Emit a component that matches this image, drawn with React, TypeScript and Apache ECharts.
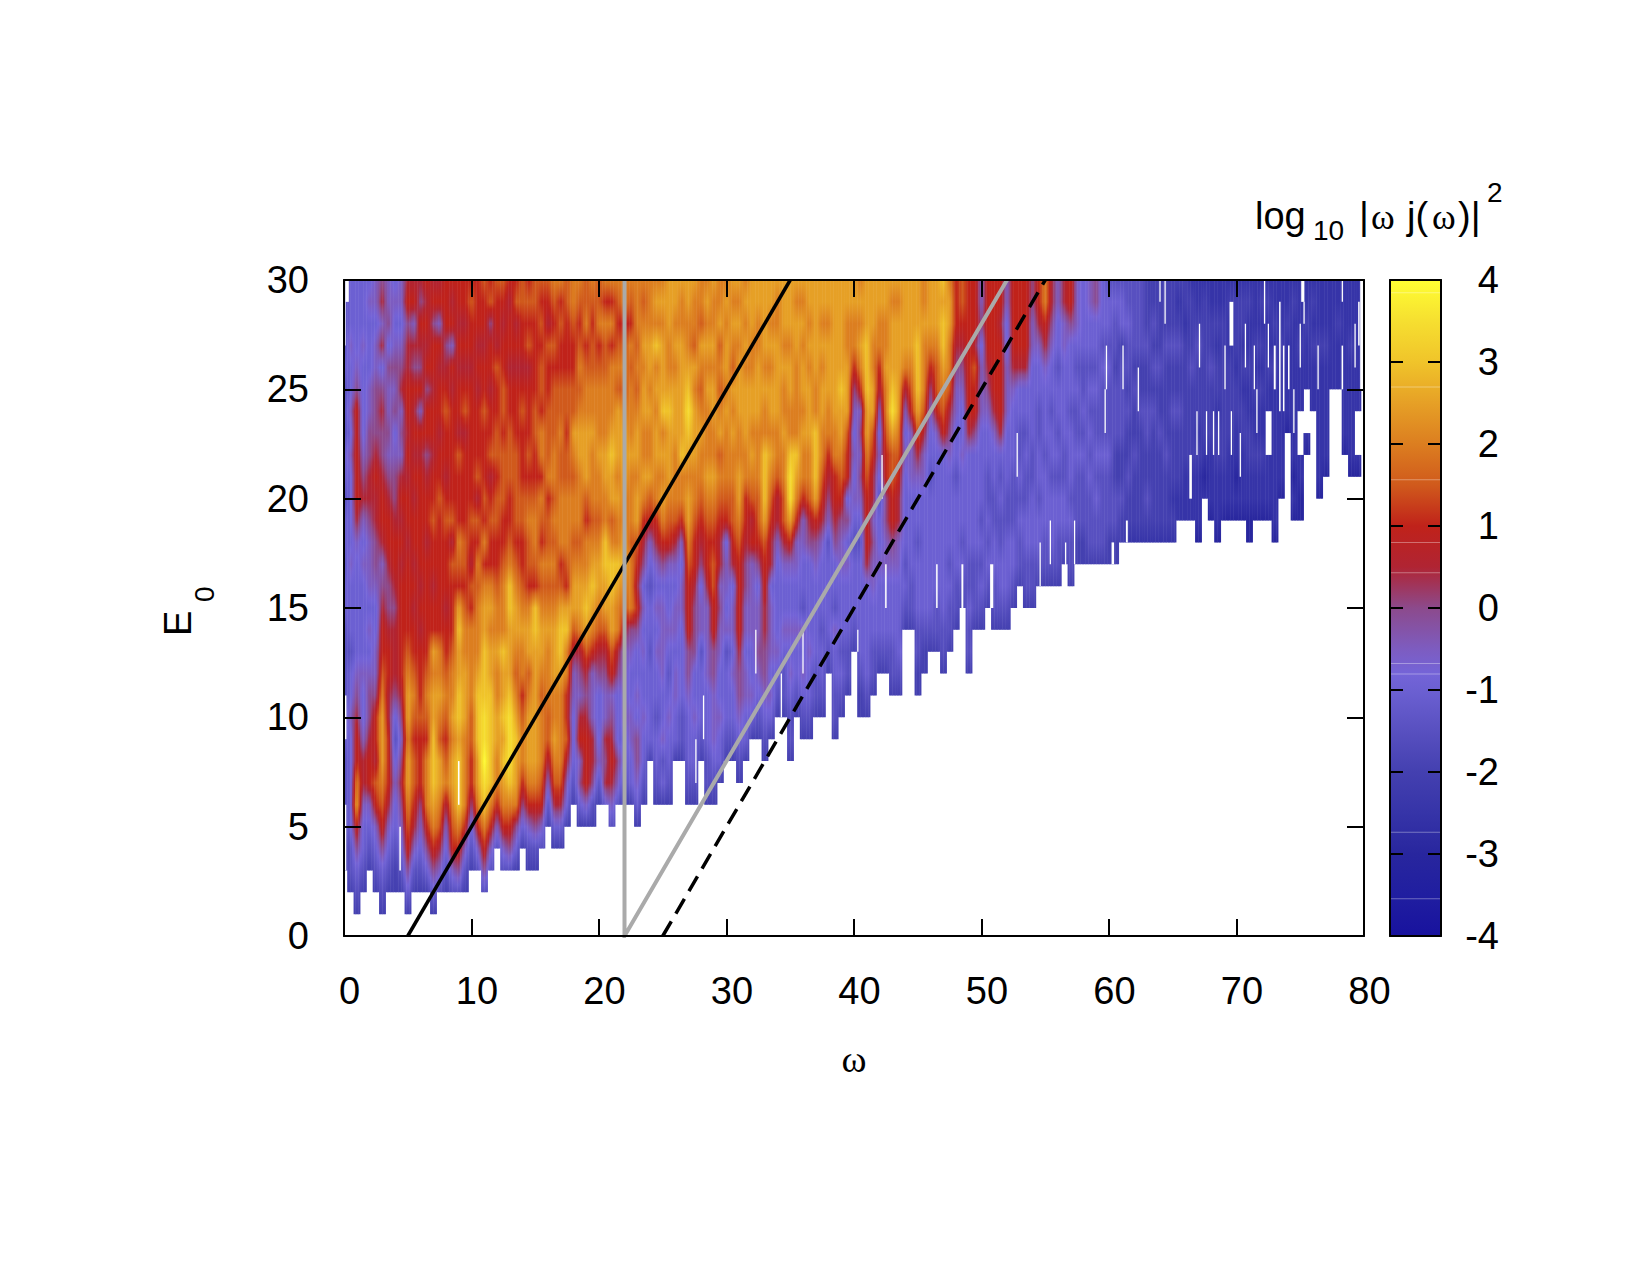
import { useEffect, useRef } from "react";
import * as echarts from "echarts";

// log10 |w j(w)|^2, one string per omega (step 0.5), E0 = 0..30 left to right.
// a = -4, b = -3.5 ... i = 0 ... q = 4, "." = no data
const columnsOmega0to20 = [
  "...ee ffffg gffff ggfgg fggff fgfff f",
  "..eff ggggg hggfg gghgg gghgh gghgg g",
  ".efgi knmkk jihgg ggghj kkkkk ihggg g",
  "..efg ghjjh gghgg gghgh jihgg gghgg g",
  "...ef ghkkj iihgh ghhhi jjiih hgggh g",
  "..efg hkljk kihhg ghiij jkjii ihhgh h",
  ".efgi klmnn nmlkk jihjk kjiij igjhj i",
  "..efg hjkkk jjkkj iijkk jihih higih h",
  "..eef gghgf gijjj ijkkj iihgi hihgh g",
  "..efg hijih ijkkk kkjkj kjhih jihgh h",
  ".egik lmnnm nnmlk kkkjk kjkjk kjjik j",
  "..efh jkllk lmlkk jkjkk jkjkj kijhk j",
  "..efg hikkk lkkkj kjkkk kkjkh kijki j",
  "..egi kmmmk lmlkk kkkjk kjikk ikjkj k",
  ".egik mnooo nnmnk kjkkl kkjkk jkkik j",
  "..fhj lmnnl mnmmk kkkkk lkkjk kjkhk j",
  "..efg hjmlk lmlkk jkkkl kjkkl kjikk k",
  "..fhk lmnnm nmmlk kkljl kkkkk jkhkj k",
  "..fik mooon oonno nklmk kkljk kjkjk k",
  "..efh kmmmm nnnmm lkllk kkkjl kjkjk k",
  "...ef gikkl lmmmm kljkl kkkkk kjkkl k",
  "...fh kmnno oonmm mlmkl jlkkk jkjkk k",
  "..fik mopqp pooon nmkmk lkkkl kkjkk l",
  "...fh kmooo oonnm nmkkl kjlkk jkkil k",
  "....f hkmmn nmmnm mlkkl lkllk kljkk l",
  "...fh kmnon onnom mmlkk lllkl lkkjk l",
  "...fi kmopp ponnn oomlk klllk kjkkj k",
  "...eg imnno nmlmn nmlkl lllkk kjkjl k",
  "....e gikmm lkmmn mlkkl lkkkl kjkkl l",
  "...ef hkmnn nmlnn mkllm lklkk kjlkl k",
  "...ef ikmnn nnnno oklmm lkkll kkkkl l",
  "....f hklmm mlmnn mlmkl mkmmk llklk l",
  "..... efhjl lmmmn mlmll kmlll kkljk l",
  "....e gjlmn mmnnn mlmlm lmmll lklkl m",
  "....e gjlmm mmnoo nlkmm mllml lkklk m",
  "..... eghjl kkmmo nklmm mllkl lkkkl l",
  "..... .efgg ghhjl nnmlm mlmnl lkklm m",
  "..... egihk jhijm nnmlm mmnnm lmlkl m",
  "..... ehkkk jijln onmmk lnnnm mlkml l",
  "..... efijj hhhkm nonml mmmnm mllkl m",
];
const columnsOmega20to40 = [
  "..... .efhg ggijl mnnml mmnmm mlkml l",
  "..... .gjij hhijl nnoom mnnmm mllmk m",
  "..... fhjkj ihkln nooml nnonm mmkmk m",
  "..... .fhig ggijm mnomm nmnnn lmlkl m",
  "..... .efgg hhhhj lmnnm mnnnm lmlkm m",
  "..... .eggh hgghi mmmlm mmnmm mlmkl m",
  "..... eghii ghggi kjkln nmnnm lmlmm m",
  "..... .efgg hgghg hgijk mnmmn nmnml m",
  "..... ...eg gggfg gfghk lnmmn mnnmm m",
  "..... .efgg fgghg hghjk mmnnm nmomn m",
  "..... .egfh gghhh hgikm nmnmo nnnmn m",
  "..... .efgg hgfgh gghkl mnnno nmmnn n",
  "..... ...eg ghhgh hghjl mmmnn nmnmn n",
  "..... ...ef fgggg hhghk mmonn nnnmm n",
  "..... .efgg ghiik kklmn nmnop onmmn n",
  "..... .efgg hggii ijkkl mmnnn mnlmm n",
  "..... ...ef gggfh hgijk lmmnm lmnlm m",
  "..... .effg gghhh hjkkl mnmmm nmnmn m",
  "..... .efgh hhiik kllkl mnmmn nmnmm n",
  "..... ..egg hgghh ihjjk lmlnm lmlnm m",
  "..... ...ef gggfh ghhgk lmmmn mnnmn m",
  "..... ...ef gghgh hgjkl lmmnm nlmnm n",
  "..... ..efg hiijk kkklm nnmmn nnmnm n",
  "..... ...eg ghhgh hiijk kmmnn nmnmn m",
  "..... ....e ghggh hhhkj lmnmn nmmnn n",
  "..... ....e fghih hgikl lmmmn nnmmn n",
  "..... ...ef ghiij jkkln ooomm nmnnn n",
  "..... ....e ghghh hgjjk lmnmn nmnmn n",
  "..... ..... efghg ggghj jlmmn nnnmm n",
  "..... ..... effgh gghjl lmmnm mnmnn n",
  "..... ...ef fghgh gghkn ppomm nnmnn n",
  "..... ..... efggh gghhk mnomm mmnnm n",
  "..... ....e fghgh fgghh kmmnm nnmnm n",
  "..... ....e fgghg gggij lmmnn nmnmn n",
  "..... ..... effgg gghik nooom mnnnn n",
  "..... ..... efggf ggghj klmmn nmnmn n",
  "..... ..... ..efg gggfh ijkmm nnnmn n",
  "..... ....e ffggh fggij kkmmn nnnnn n",
  "..... ..... efgfg gghhi klmnn onnnn n",
  "..... ..... .effg gghgi gkkln nnmmn n",
];
const columnsOmega40to60 = [
  "..... ..... ...ef gggfg hghgh ikmmn n",
  "..... ..... eefgg gggfg hihih kmnmn m",
  "..... ..... efggg ggjkk klmnn ooonn n",
  "..... ..... .effg ghhih jjkln nmmnn n",
  "..... ..... ..efg gghgg fghgh jkmmn n",
  "..... ..... ..efg gghhi ikklm mnmmn n",
  "..... ..... .effg gghik kllnp onnnm n",
  "..... ..... .efgg gghhj jklmn nnnnm n",
  "..... ..... ....e fgfgg gghgh jmnnn n",
  "..... ..... ....e ffggg ghhhk lmnnn n",
  "..... ..... .eeff gggfg ghjln ooonn n",
  "..... ..... ..eef ggggg ghhjl mmmnm m",
  "..... ..... ...ef ggggg gfggh ikmnn n",
  "..... ..... ...ef fgggg ggghk llmnn n",
  "..... ..... ..eff ggggg gggkl mnoon o",
  "..... ..... ...ef fgfgg gghij lmmnn m",
  "..... ..... ....e ffggg gfggh hijkk k",
  "..... ..... ..... efgfg gghgg hijkl l",
  "..... ..... ..eff gffgg gggjk kkkkk k",
  "..... ..... ....e fffgg gggik kljkk k",
  "..... ..... ....e fgfgf ggggh hhgih h",
  "..... ..... ..... efgfg ffggh ijkkk k",
  "..... ..... ....e ffggf fgghj kkkkk k",
  "..... ..... ....e fggff gfgjk kkkjk k",
  "..... ..... ....e fgggf fgggh hhggh h",
  "..... ..... ..... efggf ffggg hjkkk k",
  "..... ..... ..... .effg fgffg gjkkk k",
  "..... ..... ..... effgg ffgfg gjkkk k",
  "..... ..... ..... effgg gffgg gghhi i",
  "..... ..... ..... .efgg fggff gghjk k",
  "..... ..... ..... .effg ggfgg ghjkm m",
  "..... ..... ..... .efgg gfggf gghij j",
  "..... ..... ..... .effg gfgfg gfggh h",
  "..... ..... ..... ..efg gffgg gghhj j",
  "..... ..... ..... .effg fgggf gggik k",
  "..... ..... ..... ..eef ffgff gfghh h",
  "..... ..... ..... ..eef ffgfg ffggg g",
  "..... ..... ..... ..eff fgfgf gfggh h",
  "..... ..... ..... ..eff gfgff gfggi i",
  "..... ..... ..... ..eff ffgff fgfgg g",
];
const columnsOmega60to80 = [
  "..... ..... ..... ..eef ffgff fgfgg f",
  "..... ..... ..... ..eef feeff feffg f",
  "..... ..... ..... ...ee feeff ffegg f",
  "..... ..... ..... ...de efeef effgf f",
  "..... ..... ..... ...de eefee fefff f",
  "..... ..... ..... ...de eeeef eefff f",
  "..... ..... ..... ...de feeff eefee e",
  "..... ..... ..... ...de eeeef efefe e",
  "..... ..... ..... ...de eeefe efeee e",
  "..... ..... ..... ...de eefee eefee e",
  "..... ..... ..... ...de deeef eefee e",
  "..... ..... ..... ....d deeef eefed e",
  "..... ..... ..... ....d ddeee eeede e",
  "..... ..... ..... ....d ddeee efeee d",
  "..... ..... ..... ...cd ddede eefed d",
  "..... ..... ..... ..... dcdee eeeee d",
  "..... ..... ..... ....c dddee efeed d",
  "..... ..... ..... ...cd ddeed eeded d",
  "..... ..... ..... ....c ddeee eeeed d",
  "..... ..... ..... ....c dddee eedde d",
  "..... ..... ..... ....c dcdde edeee d",
  "..... ..... ..... ....c dddee dedee d",
  "..... ..... ..... ...cc ddeed dedde d",
  "..... ..... ..... ....c ddedd ededd d",
  "..... ..... ..... ....c ddedd edede d",
  "..... ..... ..... ....c ddd.d dedde d",
  "..... ..... ..... ...cd ddddd deded d",
  "..... ..... ..... ..... cdddd ddedd d",
  "..... ..... ..... ..... ...cd ddded d",
  "..... ..... ..... ....c dcddd dddde d",
  "..... ..... ..... ....c cdd.d ddedd d",
  "..... ..... ..... ..... ..cd. ddded d",
  "..... ..... ..... ..... ....d ddede d",
  "..... ..... ..... ..... cdddd ddedd d",
  "..... ..... ..... ..... .cddd ddedd d",
  "..... ..... ..... ..... ..... ddddd d",
  "..... ..... ..... ..... ..... ddded d",
  "..... ..... ..... ..... ..cdd ddddd d",
  "..... ..... ..... ..... .cddd ddedd d",
  "..... ..... ..... ..... .cd.d ddddd d",
  "..... ..... ..... ..... ..... ..... .",
];

// thin missing strips that are narrower than one column: omega, E0 from, E0 to, width in omega
const missingStrips = [
  [0.06, 27, 30, 0.14], [0.25, 29, 30, 0.25], [0.13, 9, 11, 0.12], [0.13, 3, 6, 0.1], [4.4, 3, 5, 0.12], [9, 6, 8, 0.12],
  [27.6, 7, 9, 0.1], [28.2, 9, 11, 0.1], [32.3, 12, 14, 0.1], [34.3, 10, 12, 0.1], [36, 12, 14, 0.1], [40.3, 13, 14, 0.1],
  [42.2, 20, 22, 0.1], [42.5, 15, 17, 0.12], [46.5, 15, 17, 0.12], [48.5, 15, 17, 0.15], [50.8, 15, 17, 0.25], [52.8, 21, 23, 0.1],
  [54.6, 16, 18, 0.1], [55.4, 17, 19, 0.1], [56.6, 16, 18, 0.1], [57.3, 17, 19, 0.1], [59.7, 23, 25, 0.1], [59.8, 25, 27, 0.1],
  [60.3, 17, 18, 0.2], [61.1, 25, 27, 0.1], [61.4, 18, 19, 0.15], [62.3, 24, 26, 0.1], [64, 29, 30, 0.1], [64.4, 28, 30, 0.1],
  [66.4, 20, 22, 0.2], [66.9, 22, 24, 0.1], [67.1, 26, 28, 0.1], [67.65, 22, 24, 0.1], [68.2, 22, 24, 0.1], [68.6, 22, 24, 0.1],
  [69.1, 25, 27, 0.1], [69.6, 27, 29, 0.3], [69.6, 22, 24, 0.1], [70.3, 21, 23, 0.1], [70.7, 26, 28, 0.1], [71.4, 25, 27, 0.1],
  [71.6, 23, 25, 0.1], [72.2, 28, 30, 0.1], [72.5, 26, 28, 0.1], [73, 25, 27, 0.15], [73.4, 24, 29, 0.12], [73.7, 24, 27, 0.12],
  [74.1, 25, 27, 0.12], [74.5, 23, 25, 0.1], [75.0, 26, 28, 0.1], [75.2, 29, 30, 0.25], [75.3, 28, 29, 0.1], [76.4, 25, 27, 0.1],
  [78.3, 25, 27, 0.12], [78.3, 29, 30, 0.1], [79.3, 26, 28, 0.1], [79.6, 27, 29, 0.12], [79.85, 25, 30, 0.3],
];

const blackLine = [[5, 0], [35, 30]];
const grayLine = [[22, 30], [22, 0], [52, 30]];
const dashedLine = [[25, 0], [55, 30]];

const omegaTicks = [0, 10, 20, 30, 40, 50, 60, 70, 80];
const paletteLevels = [-4, -3.5, -3, -2.5, -2, -1.5, -1, -0.8, -0.5, 0, 0.5, 1, 1.5, 2, 2.5, 3, 3.5, 4];
const paletteColors = [
  "#18129e", "#201ea0", "#28269e", "#3634a8", "#4440b0", "#5850c0", "#6c60d2", "#7464d8", "#7d5cc0", "#8c4a8c",
  "#b02433", "#c0221a", "#d05a1c", "#dc7e20", "#e6a026", "#f0c42a", "#f6df30", "#ffff33",
];
// pale seams in the colour box
const colorSeams = [3.85, 2.7, 1.57, 0.805, 0.435, -0.67, -0.8, -2.73, -3.54];

const grid = [...columnsOmega0to20, ...columnsOmega20to40, ...columnsOmega40to60, ...columnsOmega60to80].map((col) =>
  col
    .replace(/ /g, "")
    .split("")
    .map((ch) => (ch === "." ? null : (ch.charCodeAt(0) - 97) * 0.5 - 4))
);
const omegaStep = 0.5;
const sliceCount = 4;

const paletteRgb = paletteColors.map((c) => [
  parseInt(c.slice(1, 3), 16),
  parseInt(c.slice(3, 5), 16),
  parseInt(c.slice(5, 7), 16),
]);

function toColor(v: number) {
  let i = 0;
  while (i < paletteLevels.length - 2 && v > paletteLevels[i + 1]) i++;
  const t = Math.max(0, Math.min(1, (v - paletteLevels[i]) / (paletteLevels[i + 1] - paletteLevels[i])));
  const a = paletteRgb[i];
  const b = paletteRgb[i + 1];
  return `rgb(${Math.round(a[0] + (b[0] - a[0]) * t)},${Math.round(a[1] + (b[1] - a[1]) * t)},${Math.round(a[2] + (b[2] - a[2]) * t)})`;
}

// one column, drawn as narrow vertical slices blended with the next column, like pm3d interpolate
function renderColumn(_params: any, api: any) {
  const idx = api.value(1);
  const omega = api.value(0);
  const own = grid[idx];
  const children: any[] = [];
  for (let s = 0; s < sliceCount; s++) {
    const left = omega - omegaStep / 2 + (s * omegaStep) / sliceCount;
    const right = left + omegaStep / sliceCount;
    const offset = (left + right) / 2 - omega;
    const other = grid[idx + (offset < 0 ? -1 : 1)] || [];
    const t = Math.abs(offset) / omegaStep;
    const vals = own.map((v, k) => {
      if (v === null) return null;
      const o = other[k];
      return o === null || o === undefined ? v : v + (o - v) * t;
    });
    let k = 0;
    while (k < vals.length - 1) {
      if (vals[k] === null || vals[k + 1] === null) {
        k++;
        continue;
      }
      let end = k + 1;
      while (end < vals.length - 1 && vals[end + 1] !== null) end++;
      const stops: any[] = [];
      for (let e = end; e > k; e--) {
        for (let q = 0; q < 3; q++) {
          const f = q / 3;
          const v = (vals[e] as number) + ((vals[e - 1] as number) - (vals[e] as number)) * f;
          stops.push({ offset: (end - e + f) / (end - k), color: toColor(v) });
        }
      }
      stops.push({ offset: 1, color: toColor(vals[k] as number) });
      const p0 = api.coord([left, end]);
      const p1 = api.coord([right, k]);
      children.push({
        type: "rect",
        shape: { x: p0[0], y: p0[1], width: p1[0] - p0[0] + 0.5, height: p1[1] - p0[1] },
        style: { fill: new echarts.graphic.LinearGradient(0, 0, 0, 1, stops) },
      });
      k = end;
    }
  }
  return { type: "group", children };
}

function renderStrip(_params: any, api: any) {
  const w = api.value(3);
  const p0 = api.coord([api.value(0) - w / 2, api.value(2)]);
  const p1 = api.coord([api.value(0) + w / 2, api.value(1)]);
  return {
    type: "rect",
    shape: { x: p0[0], y: p0[1], width: p1[0] - p0[0], height: p1[1] - p0[1] },
    style: { fill: "#ffffff" },
  };
}

function renderColorBox(_params: any, api: any) {
  const p0 = api.coord([0, 4]);
  const p1 = api.coord([1, -4]);
  const top = p0[1];
  const height = p1[1] - p0[1];
  const stops = paletteLevels.map((lv, i) => ({ offset: (4 - lv) / 8, color: paletteColors[i] })).reverse();
  const seams = colorSeams.map((lv) => ({
    type: "rect",
    shape: { x: p0[0], y: api.coord([0, lv])[1], width: p1[0] - p0[0], height: 1 },
    style: { fill: "rgba(255,255,255,0.35)" },
  }));
  return {
    type: "group",
    children: [
      {
        type: "rect",
        shape: { x: p0[0], y: top, width: p1[0] - p0[0], height },
        style: { fill: new echarts.graphic.LinearGradient(0, 0, 0, 1, stops) },
      },
      ...seams,
    ],
  };
}

const sansFont = "Liberation Sans";
const serifFont = "Liberation Serif";
const frame = { show: true, onZero: false, lineStyle: { color: "#000", width: 2 } };

function frameAxis(extra: any) {
  return {
    type: "value",
    axisLine: frame,
    splitLine: { show: false },
    axisLabel: { show: false },
    z: 6,
    ...extra,
  };
}

function piece(text: string, x: number, y: number, fontSize: number, fontFamily = sansFont) {
  return {
    type: "text",
    x,
    y,
    style: { text, fontSize, fontFamily, fill: "#000", verticalAlign: "bottom", align: "left" },
  };
}

const App = () => {
  const chartRef = useRef(null);

  useEffect(() => {
    const chart = echarts.init(chartRef.current, null, { renderer: "svg" });

    const mainTickX = { show: true, inside: true, length: 17, lineStyle: { color: "#000", width: 2 } };
    const boxTick = { show: true, inside: true, length: 13, lineStyle: { color: "#000", width: 2 } };

    const options = {
      animation: false,
      backgroundColor: "#fff",
      grid: [
        { left: 344, top: 280, width: 1020, height: 656 },
        { left: 1390, top: 280, width: 51, height: 656 },
      ],
      xAxis: [
        frameAxis({
          gridIndex: 0,
          position: "bottom",
          min: 0,
          max: 80,
          interval: 10,
          axisTick: mainTickX,
          axisLabel: {
            show: true,
            fontFamily: sansFont,
            fontSize: 38,
            color: "#000",
            margin: 36,
            padding: [0, 0, 0, 11],
            formatter: (v: number) => (omegaTicks.includes(v) ? String(v) : ""),
          },
          name: "ω",
          nameLocation: "middle",
          nameGap: 104,
          nameTextStyle: { fontFamily: serifFont, fontSize: 38, color: "#000" },
        }),
        frameAxis({ gridIndex: 0, position: "top", min: 0, max: 80, interval: 10, axisTick: mainTickX }),
        frameAxis({ gridIndex: 1, position: "bottom", min: 0, max: 1, axisTick: { show: false } }),
        frameAxis({ gridIndex: 1, position: "top", min: 0, max: 1, axisTick: { show: false } }),
      ],
      yAxis: [
        frameAxis({
          gridIndex: 0,
          position: "left",
          min: 0,
          max: 30,
          interval: 5,
          axisTick: mainTickX,
          axisLabel: { show: true, fontFamily: sansFont, fontSize: 38, color: "#000", margin: 35 },
        }),
        frameAxis({ gridIndex: 0, position: "right", min: 0, max: 30, interval: 5, axisTick: mainTickX }),
        frameAxis({ gridIndex: 1, position: "left", min: -4, max: 4, interval: 1, axisTick: boxTick }),
        frameAxis({
          gridIndex: 1,
          position: "right",
          min: -4,
          max: 4,
          interval: 1,
          axisTick: boxTick,
          axisLabel: { show: true, fontFamily: sansFont, fontSize: 38, color: "#000", margin: 58, align: "right" },
        }),
      ],
      series: [
        {
          type: "custom",
          xAxisIndex: 0,
          yAxisIndex: 0,
          z: 1,
          clip: true,
          silent: true,
          renderItem: renderColumn,
          data: grid.map((_, i) => [i * omegaStep, i]),
        },
        {
          type: "custom",
          xAxisIndex: 0,
          yAxisIndex: 0,
          z: 2,
          clip: true,
          silent: true,
          renderItem: renderStrip,
          data: missingStrips,
        },
        {
          type: "line",
          xAxisIndex: 0,
          yAxisIndex: 0,
          z: 3,
          showSymbol: false,
          data: blackLine,
          lineStyle: { color: "#000", width: 3.5 },
        },
        {
          type: "line",
          xAxisIndex: 0,
          yAxisIndex: 0,
          z: 3,
          showSymbol: false,
          data: grayLine,
          lineStyle: { color: "#aaaaaa", width: 4, join: "miter" },
        },
        {
          type: "line",
          xAxisIndex: 0,
          yAxisIndex: 0,
          z: 3,
          showSymbol: false,
          data: dashedLine,
          lineStyle: { color: "#000", width: 3.5, type: [17, 9] },
        },
        {
          type: "custom",
          xAxisIndex: 2,
          yAxisIndex: 2,
          z: 1,
          silent: true,
          renderItem: renderColorBox,
          data: [[0, -4]],
        },
      ],
      graphic: [
        piece("log", 1255, 235, 38),
        piece("10", 1313, 244, 28),
        piece("|", 1359, 235, 38),
        piece("ω", 1371, 235, 36, serifFont),
        piece("j(", 1407, 235, 38),
        piece("ω", 1432, 235, 36, serifFont),
        piece(")|", 1458, 235, 38),
        piece("2", 1487, 206, 28),
        {
          type: "text",
          x: 197,
          y: 636,
          rotation: Math.PI / 2,
          style: { text: "E", fontSize: 38, fontFamily: sansFont, fill: "#000", verticalAlign: "bottom", align: "left" },
        },
        {
          type: "text",
          x: 218,
          y: 602,
          rotation: Math.PI / 2,
          style: { text: "0", fontSize: 28, fontFamily: sansFont, fill: "#000", verticalAlign: "bottom", align: "left" },
        },
      ],
    };

    chart.setOption(options);

    return () => {
      chart.dispose();
    };
  }, []);

  return <div ref={chartRef} style={{ position: "absolute", left: 0, top: 0, width: 1650, height: 1275 }} />;
};

export default App;
